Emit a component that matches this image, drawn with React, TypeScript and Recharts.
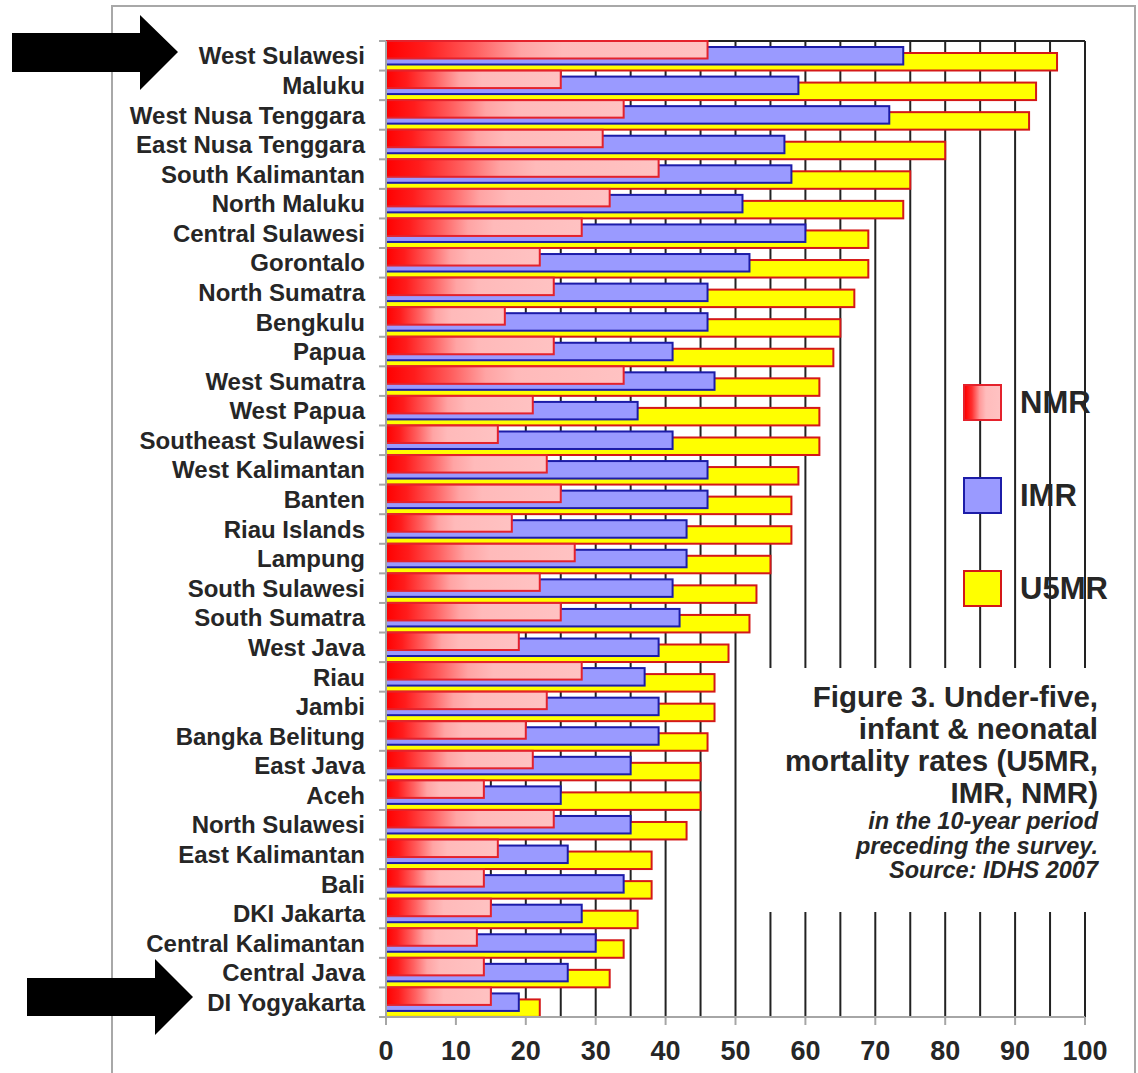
import React from 'react';
import { BarChart, Bar, XAxis, YAxis, CartesianGrid, Legend } from 'recharts';

// Provinces, ordered as in the figure (highest U5MR at the top)
const provinces = [
  'West Sulawesi', 'Maluku', 'West Nusa Tenggara', 'East Nusa Tenggara', 'South Kalimantan',
  'North Maluku', 'Central Sulawesi', 'Gorontalo', 'North Sumatra', 'Bengkulu', 'Papua',
  'West Sumatra', 'West Papua', 'Southeast Sulawesi', 'West Kalimantan', 'Banten',
  'Riau Islands', 'Lampung', 'South Sulawesi', 'South Sumatra', 'West Java', 'Riau', 'Jambi',
  'Bangka Belitung', 'East Java', 'Aceh', 'North Sulawesi', 'East Kalimantan', 'Bali',
  'DKI Jakarta', 'Central Kalimantan', 'Central Java', 'DI Yogyakarta',
];

const nmr = [46, 25, 34, 31, 39, 32, 28, 22, 24, 17, 24, 34, 21, 16, 23, 25, 18, 27, 22, 25, 19, 28, 23, 20, 21, 14, 24, 16, 14, 15, 13, 14, 15];
const imr = [74, 59, 72, 57, 58, 51, 60, 52, 46, 46, 41, 47, 36, 41, 46, 46, 43, 43, 41, 42, 39, 37, 39, 39, 35, 25, 35, 26, 34, 28, 30, 26, 19];
const u5mr = [96, 93, 92, 80, 75, 74, 69, 69, 67, 65, 64, 62, 62, 62, 59, 58, 58, 55, 53, 52, 49, 47, 47, 46, 45, 45, 43, 38, 38, 36, 34, 32, 22];

// grid every 5, labels every 10
const xTicks = [0, 5, 10, 15, 20, 25, 30, 35, 40, 45, 50, 55, 60, 65, 70, 75, 80, 85, 90, 95, 100];

const captionTitle = ['Figure 3. Under-five,', 'infant & neonatal', 'mortality rates (U5MR,', 'IMR, NMR)'];
const captionNote = ['in the 10-year period', 'preceding the survey.', 'Source: IDHS 2007'];

const series = [
  { key: 'NMR', fill: 'url(#nmrFill)', swatch: 'linear-gradient(to right, #ff0000 0%, #ff3030 20%, #ff9a9a 42%, #ffbcbc 60%, #ffc2c2 100%)', stroke: '#e4222c', shift: -1 },
  { key: 'IMR', fill: '#9a9aff', swatch: '#9a9aff', stroke: '#1c1ca8', shift: 0 },
  { key: 'U5MR', fill: '#ffff00', swatch: '#ffff00', stroke: '#d41818', shift: 1 },
];

const data = provinces.map((province, i) => ({
  province,
  NMR: nmr[i],
  IMR: imr[i],
  U5MR: u5mr[i],
}));

const FONT = '"Liberation Sans", Arial, Helvetica, sans-serif';
const TEXT = '#262626';
const AXIS_GREY = '#a6a6a6';
const BAR_SIZE = 17.5;
const STEP = 6;

// bars sit on top of each other; each one is nudged down a little
const staggeredBar = (shift: number, fill: string, stroke: string) => (props: any) => {
  const { x, y, width, height } = props;
  if (x == null || y == null || !width) return null;
  return (
    <rect
      x={x}
      y={y + shift * STEP}
      width={Math.max(width, 0)}
      height={height}
      fill={fill}
      stroke={stroke}
      strokeWidth={2}
    />
  );
};

const ProvinceTick = (props: any) => {
  const { x, y, payload } = props;
  const half = payload && payload.offset ? payload.offset : 14.8;
  const isLast = payload.value === provinces[provinces.length - 1];
  return (
    <g>
      <line x1={x - 7} x2={x} y1={y - half} y2={y - half} stroke={AXIS_GREY} strokeWidth={2} />
      {isLast && <line x1={x - 7} x2={x} y1={y + half} y2={y + half} stroke={AXIS_GREY} strokeWidth={2} />}
      <text
        x={x - 21}
        y={y}
        dy="0.36em"
        textAnchor="end"
        fill={TEXT}
        style={{ fontFamily: FONT, fontWeight: 700, fontSize: 24 }}
      >
        {payload.value}
      </text>
    </g>
  );
};

const RateTick = (props: any) => {
  const { x, y, payload } = props;
  if (payload.value % 10 !== 0) return <g />;
  return (
    <g>
      <line x1={x} x2={x} y1={y} y2={y + 8} stroke={AXIS_GREY} strokeWidth={2} />
      <text
        x={x}
        y={y + 33}
        dy="0.36em"
        textAnchor="middle"
        fill={TEXT}
        style={{ fontFamily: FONT, fontWeight: 700, fontSize: 27 }}
      >
        {payload.value}
      </text>
    </g>
  );
};

const LegendBox = () => (
  <div style={{ fontFamily: FONT }}>
    {series.map(s => (
      <div key={s.key} style={{ display: 'flex', alignItems: 'center', height: 37, marginBottom: 56 }}>
        <div
          style={{
            width: 35,
            height: 33,
            background: s.swatch,
            border: `2px solid ${s.stroke}`,
          }}
        />
        <span style={{ marginLeft: 18, fontSize: 31, fontWeight: 700, color: TEXT }}>{s.key}</span>
      </div>
    ))}
  </div>
);

export default function App() {
  return (
    <div
      style={{
        position: 'absolute',
        left: 0,
        top: 0,
        width: 1138,
        height: 1073,
        overflow: 'hidden',
        background: '#fff',
      }}
    >
      <svg width={0} height={0} style={{ position: 'absolute' }}>
        <defs>
          <linearGradient id="nmrFill" x1="0" y1="0" x2="1" y2="0">
            <stop offset="0%" stopColor="#ff0000" />
            <stop offset="12%" stopColor="#ff1c1c" />
            <stop offset="28%" stopColor="#ff6060" />
            <stop offset="42%" stopColor="#ffa4a4" />
            <stop offset="55%" stopColor="#ffbaba" />
            <stop offset="100%" stopColor="#ffc2c2" />
          </linearGradient>
        </defs>
      </svg>

      {/* grey frame of the figure */}
      <div
        style={{
          position: 'absolute',
          left: 111,
          top: 5,
          width: 1021,
          height: 1100,
          borderLeft: '2px solid #a8a8a8',
          borderTop: '2px solid #a8a8a8',
          borderRight: '2px solid #a8a8a8',
        }}
      />

      <div style={{ position: 'absolute', left: 0, top: 0 }}>
        <BarChart
          width={1138}
          height={1073}
          data={data}
          layout="vertical"
          margin={{ top: 41, right: 53, bottom: 6, left: 116 }}
          barSize={BAR_SIZE}
          barGap={-BAR_SIZE}
        >
          <CartesianGrid
            stroke="#222"
            strokeWidth={2}
            horizontalCoordinatesGenerator={(p: any) => [p.offset.top]}
          />
          <XAxis
            type="number"
            domain={[0, 100]}
            ticks={xTicks}
            interval={0}
            height={50}
            tickSize={0}
            tickMargin={0}
            tickLine={false}
            axisLine={{ stroke: AXIS_GREY, strokeWidth: 2 }}
            tick={<RateTick />}
          />
          <YAxis
            type="category"
            dataKey="province"
            width={270}
            interval={0}
            tickSize={0}
            tickMargin={0}
            tickLine={false}
            axisLine={{ stroke: AXIS_GREY, strokeWidth: 2 }}
            tick={<ProvinceTick />}
          />
          {[...series].reverse().map(s => (
            <Bar
              key={s.key}
              dataKey={s.key}
              fill={s.fill}
              stroke={s.stroke}
              isAnimationActive={false}
              shape={staggeredBar(s.shift, s.fill, s.stroke)}
            />
          ))}
          <Legend
            content={<LegendBox />}
            layout="vertical"
            align="center"
            verticalAlign="middle"
            wrapperStyle={{ position: 'absolute', left: 963, top: 384, width: 170, height: 240 }}
          />
        </BarChart>
      </div>

      {/* caption block, sits over the grid lines */}
      <div
        style={{
          position: 'absolute',
          left: 752,
          top: 668,
          width: 346,
          height: 244,
          paddingRight: 14,
          background: '#fff',
          textAlign: 'right',
          fontFamily: FONT,
          color: TEXT,
          fontWeight: 700,
        }}
      >
        <div style={{ paddingTop: 13 }}>
          {captionTitle.map(line => (
            <div key={line} style={{ fontSize: 29.5, lineHeight: '32px', whiteSpace: 'nowrap' }}>{line}</div>
          ))}
          {captionNote.map(line => (
            <div key={line} style={{ fontSize: 23.5, lineHeight: '24.5px', fontStyle: 'italic', whiteSpace: 'nowrap' }}>{line}</div>
          ))}
        </div>
      </div>

      {/* the two pointer arrows */}
      <svg width={1138} height={1073} style={{ position: 'absolute', left: 0, top: 0, pointerEvents: 'none' }}>
        <polygon points="12,33 140,33 140,15 178,52 140,90 140,72 12,72" fill="#000" />
        <polygon points="27,978 155,978 155,959 193,997 155,1035 155,1016 27,1016" fill="#000" />
      </svg>
    </div>
  );
}
